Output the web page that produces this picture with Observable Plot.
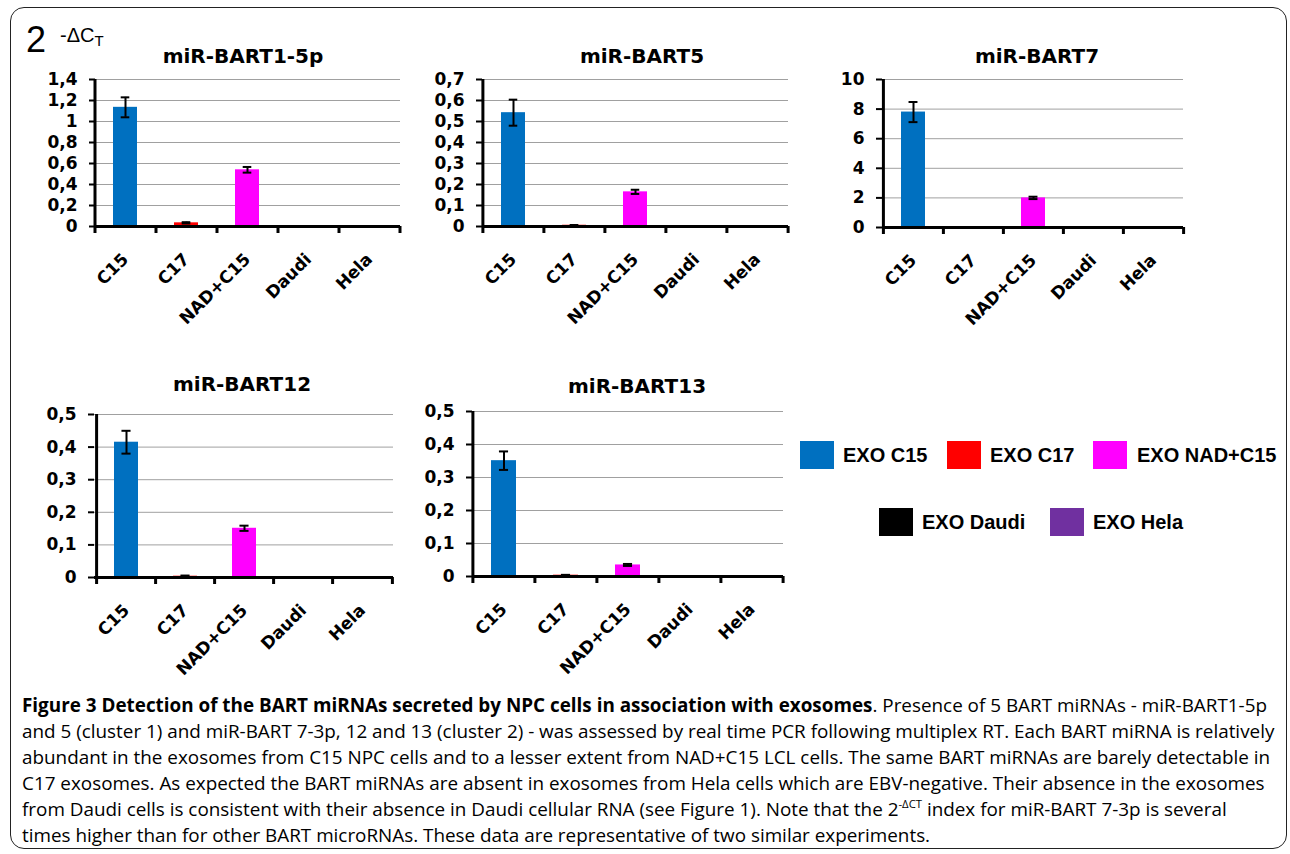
<!DOCTYPE html>
<html><head><meta charset="utf-8">
<script src="https://cdn.jsdelivr.net/npm/d3@7"></script>
<script src="https://cdn.jsdelivr.net/npm/@observablehq/plot@0.6"></script>
<style>
html,body{margin:0;padding:0;background:#fff}
body{width:1290px;height:854px;overflow:hidden;position:relative;font-family:"Liberation Sans",Arial,sans-serif;color:#000}
.abs{position:absolute}
#frame{position:absolute;left:10px;top:7px;width:1277px;height:842px;border:1.5px solid #222;border-radius:14px;box-sizing:border-box}
.title{position:absolute;font-family:"DejaVu Sans",sans-serif;font-weight:bold;font-size:20px;white-space:nowrap;transform:translate(-50%,-50%)}
.sw{position:absolute;width:34px;height:28px}
.lt{position:absolute;font-family:"Liberation Sans",Arial,sans-serif;font-weight:bold;font-size:20px;white-space:nowrap;transform:translateY(-50%)}
#caption{position:absolute;left:22px;top:692px;font-family:"Open Sans",sans-serif;font-size:16px;line-height:26px;white-space:nowrap}
#caption sup{font-size:0.6em;line-height:0;vertical-align:0.75em}
</style></head><body>
<div id="frame"></div>
<div class="abs" style="left:26px;top:22px;font-size:36px;line-height:36px">2</div>
<div class="abs" style="left:60px;top:25px;font-size:20px;line-height:20px">-ΔC<span style="font-size:15px;position:relative;top:4px">T</span></div>
<div id="panels"></div>
<div id="legend"></div>
<div id="caption"></div>
<script>
// ---- data ----
const categories = ["C15", "C17", "NAD+C15", "Daudi", "Hela"];
const seriesLabels = ["EXO C15", "EXO C17", "EXO NAD+C15", "EXO Daudi", "EXO Hela"];
const seriesColors = ["#0070C0", "#FF0000", "#FF00FF", "#000000", "#7030A0"];
const panelTitles = ["miR-BART1-5p", "miR-BART5", "miR-BART7", "miR-BART12", "miR-BART13"];

const bart1Values = [1.135, 0.035, 0.54, 0, 0];
const bart1Errors = [0.095, 0.006, 0.027, 0, 0];
const bart1Ticks = [0, 0.2, 0.4, 0.6, 0.8, 1, 1.2, 1.4];

const bart5Values = [0.542, 0.006, 0.165, 0, 0];
const bart5Errors = [0.062, 0.001, 0.01, 0, 0];
const bart5Ticks = [0, 0.1, 0.2, 0.3, 0.4, 0.5, 0.6, 0.7];

const bart7Values = [7.8, 0.03, 2.0, 0, 0];
const bart7Errors = [0.68, 0.005, 0.08, 0, 0];
const bart7Ticks = [0, 2, 4, 6, 8, 10];

const bart12Values = [0.415, 0.004, 0.151, 0, 0];
const bart12Errors = [0.035, 0.002, 0.008, 0, 0];
const bart12Ticks = [0, 0.1, 0.2, 0.3, 0.4, 0.5];

const bart13Values = [0.351, 0.004, 0.035, 0, 0];
const bart13Errors = [0.028, 0.001, 0.003, 0, 0];
const bart13Ticks = [0, 0.1, 0.2, 0.3, 0.4, 0.5];

const captionLines = [
  "<b>Figure 3 Detection of the BART miRNAs secreted by NPC cells in association with exosomes</b>. Presence of 5 BART miRNAs - miR-BART1-5p",
  "and 5 (cluster 1) and miR-BART 7-3p, 12 and 13 (cluster 2) - was assessed by real time PCR following multiplex RT. Each BART miRNA is relatively",
  "abundant in the exosomes from C15 NPC cells and to a lesser extent from NAD+C15 LCL cells. The same BART miRNAs are barely detectable in",
  "C17 exosomes. As expected the BART miRNAs are absent in exosomes from Hela cells which are EBV-negative. Their absence in the exosomes",
  "from Daudi cells is consistent with their absence in Daudi cellular RNA (see Figure 1). Note that the 2<sup>-ΔCT</sup> index for miR-BART 7-3p is several",
  "times higher than for other BART microRNAs. These data are representative of two similar experiments."
];

// ---- layout (plot-area boxes) ----
const panels = [
  {title: panelTitles[0], values: bart1Values, errors: bart1Errors, ticks: bart1Ticks, box: {left: 95, top: 79, right: 400, bottom: 226}, tx: 243, ty: 56},
  {title: panelTitles[1], values: bart5Values, errors: bart5Errors, ticks: bart5Ticks, box: {left: 482, top: 79, right: 788, bottom: 226}, tx: 642, ty: 56},
  {title: panelTitles[2], values: bart7Values, errors: bart7Errors, ticks: bart7Ticks, box: {left: 882, top: 79, right: 1183, bottom: 227}, tx: 1037, ty: 56},
  {title: panelTitles[3], values: bart12Values, errors: bart12Errors, ticks: bart12Ticks, box: {left: 94, top: 414, right: 393, bottom: 577}, tx: 242, ty: 384},
  {title: panelTitles[4], values: bart13Values, errors: bart13Errors, ticks: bart13Ticks, box: {left: 472, top: 411, right: 783, bottom: 576}, tx: 637, ty: 386}
];

const fmt = d => String(d).replace(".", ",");
const host = document.getElementById("panels");

for (const p of panels) {
  const {box} = p;
  const W = box.right - box.left, H = box.bottom - box.top;
  const mL = 70, mT = 12, mR = 12, mB = 120;
  const step = W / categories.length;
  const bw = step * 0.4;
  const capW = 9;
  const data = categories.map((c, i) => ({cat: c, v: p.values[i], e: p.errors[i]}));
  const errData = data.filter(d => d.e > 0);
  const ymax = p.ticks[p.ticks.length - 1];
  const svg = Plot.plot({
    width: W + mL + mR, height: H + mT + mB,
    marginLeft: mL, marginTop: mT, marginRight: mR, marginBottom: mB,
    style: {fontFamily: "DejaVu Sans", fontWeight: "bold", fontSize: "17px", color: "#000", background: "transparent", overflow: "visible"},
    x: {type: "band", domain: categories, paddingInner: 0.6, paddingOuter: 0.3, label: null},
    y: {domain: [0, ymax], label: null},
    color: {domain: categories, range: seriesColors},
    marks: [
      Plot.gridY(p.ticks, {stroke: "#a0a0a0", strokeOpacity: 1, strokeWidth: 1}),
      Plot.barY(data, {x: "cat", y: "v", fill: "cat"}),
      Plot.ruleX(errData, {x: "cat", y1: d => d.v - d.e, y2: d => d.v + d.e, stroke: "#000", strokeWidth: 2}),
      Plot.tickY(errData, {x: "cat", y: d => d.v + d.e, stroke: "#000", strokeWidth: 2, insetLeft: (bw - capW) / 2, insetRight: (bw - capW) / 2}),
      Plot.tickY(errData, {x: "cat", y: d => d.v - d.e, stroke: "#000", strokeWidth: 2, insetLeft: (bw - capW) / 2, insetRight: (bw - capW) / 2}),
      Plot.ruleY([0], {stroke: "#000", strokeWidth: 3}),
      Plot.ruleX([categories[0]], {dx: -step / 2, stroke: "#000", strokeWidth: 3}),
      Plot.tickX(categories, {x: d => d, dx: -step / 2, insetTop: H, insetBottom: -7, stroke: "#000", strokeWidth: 3}),
      Plot.tickX([categories[categories.length - 1]], {x: d => d, dx: step / 2, insetTop: H, insetBottom: -7, stroke: "#000", strokeWidth: 3}),
      Plot.axisY(p.ticks, {tickSize: 6, tickPadding: 12, tickFormat: fmt, strokeWidth: 2, label: null, fontSize: 17}),
      Plot.axisX({tickSize: 0, tickPadding: 30, tickRotate: -45, label: null, fontSize: 17})
    ]
  });
  svg.style.position = "absolute";
  svg.style.left = (box.left - mL) + "px";
  svg.style.top = (box.top - mT) + "px";
  host.appendChild(svg);
  const t = document.createElement("div");
  t.className = "title";
  t.textContent = p.title;
  t.style.left = p.tx + "px";
  t.style.top = p.ty + "px";
  host.appendChild(t);
}

// ---- legend ----
const legendPos = [
  {sx: 800, sy: 441, tx: 843}, {sx: 947, sy: 441, tx: 990}, {sx: 1093, sy: 441, tx: 1137},
  {sx: 879, sy: 508, tx: 922}, {sx: 1050, sy: 508, tx: 1093}
];
const lg = document.getElementById("legend");
seriesLabels.forEach((lab, i) => {
  const s = document.createElement("div");
  s.className = "sw";
  s.style.left = legendPos[i].sx + "px";
  s.style.top = legendPos[i].sy + "px";
  s.style.background = seriesColors[i];
  lg.appendChild(s);
  const t = document.createElement("div");
  t.className = "lt";
  t.textContent = lab;
  t.style.left = legendPos[i].tx + "px";
  t.style.top = (legendPos[i].sy + 14) + "px";
  lg.appendChild(t);
});

// ---- caption ----
const cap = document.getElementById("caption");
cap.innerHTML = captionLines.map(l => "<div>" + l + "</div>").join("");
const target = 1253;
const lines = [...cap.children];
const w = Math.max(...lines.slice(0, 3).map(el => { el.style.display = "inline-block"; const r = el.getBoundingClientRect().width; el.style.display = "block"; return r; }));
cap.style.fontSize = (16 * target / w).toFixed(2) + "px";
</script>
</body></html>
